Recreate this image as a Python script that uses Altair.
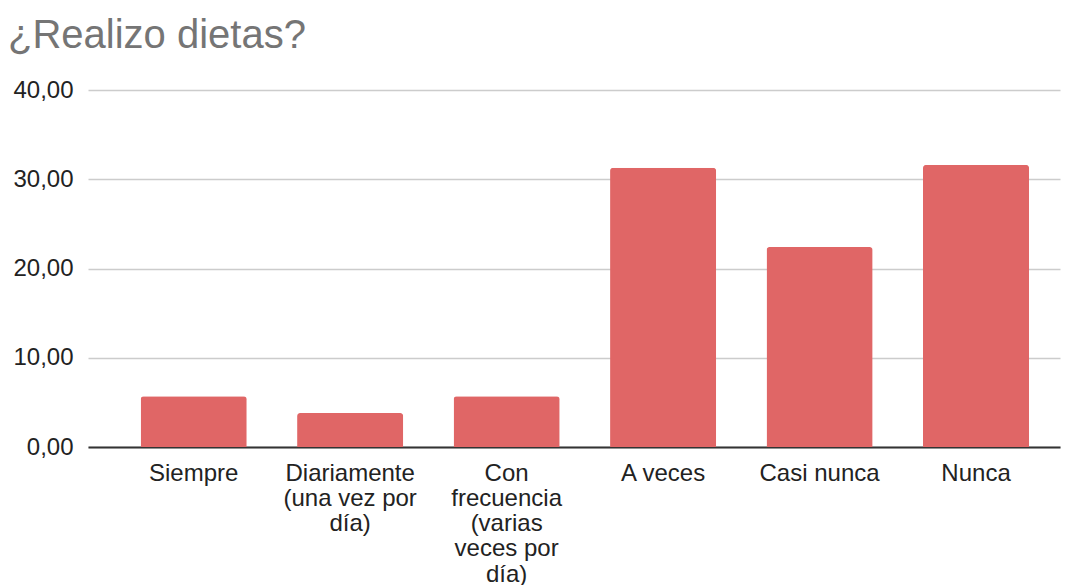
import altair as alt
import pandas as pd

categories = ["Siempre", "Diariamente (una vez por día)", "Con frecuencia (varias veces por día)",
              "A veces", "Casi nunca", "Nunca"]
values = [5.7, 3.8, 5.7, 31.3, 22.4, 31.6]
label_lines = [["Siempre"], ["Diariamente", "(una vez por", "día)"],
               ["Con", "frecuencia", "(varias", "veces por", "día)"],
               ["A veces"], ["Casi nunca"], ["Nunca"]]
y_ticks = [0, 10, 20, 30, 40]

df = pd.DataFrame({"cat": categories, "val": values})

expr = "datum.label"
for c, lines in reversed(list(zip(categories, label_lines))):
    arr = "[" + ",".join("'" + l + "'" for l in lines) + "]"
    expr = f"datum.label == '{c}' ? {arr} : ({expr})"

chart = alt.Chart(df).mark_bar(color="#e06666", cornerRadiusTopLeft=3, cornerRadiusTopRight=3).encode(
    x=alt.X("cat:N", sort=categories, title=None,
            scale=alt.Scale(paddingInner=0.322, paddingOuter=0.267, align=0.63),
            axis=alt.Axis(labelAngle=0, labelExpr=expr, labelFont="Liberation Sans", labelFontSize=24,
                          labelColor="#222222", labelLineHeight=25.3, labelPadding=14, ticks=False,
                          domainColor="#333333", domainWidth=2, labelBaseline="top")),
    y=alt.Y("val:Q", title=None, scale=alt.Scale(domain=[0, 40], nice=False),
            axis=alt.Axis(values=y_ticks, labelExpr="replace(format(datum.value, '.2f'), '.', ',')",
                          labelFont="Liberation Sans", labelFontSize=24, labelColor="#222222",
                          labelPadding=15, ticks=False, domain=False, gridColor="#cccccc",
                          gridWidth=1.5)),
).properties(
    width=972, height=357,
    title=alt.TitleParams("¿Realizo dietas?", anchor="start", font="Liberation Sans", fontSize=40,
                          fontWeight="normal", color="#757575", dx=-5, offset=22),
    autosize=alt.AutoSizeParams(type="none"),
    padding={"left": 80, "top": 82, "right": 2, "bottom": 160},
).configure_view(stroke=None)

chart.save("out.html", embed_options={"renderer": "svg", "actions": False})
